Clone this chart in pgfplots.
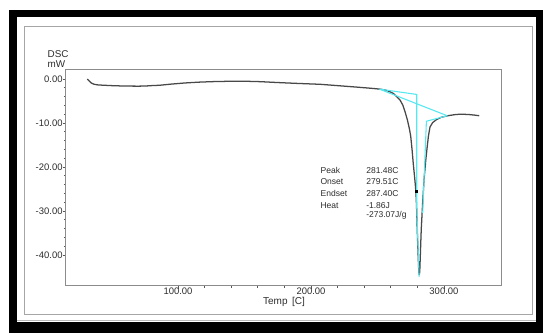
\documentclass[border=0pt]{standalone}
\usepackage{fontspec}
\setmainfont{Liberation Sans}
\usepackage{pgfplots}
\pgfplotsset{compat=1.18}
\definecolor{cyanline}{RGB}{85,232,240}
\definecolor{curve}{RGB}{72,72,72}
\definecolor{txt}{RGB}{45,45,45}
\definecolor{axgray}{RGB}{140,140,140}
\begin{document}
\begin{tikzpicture}[x=0.75pt,y=0.75pt]
\useasboundingbox (0,0) rectangle (543,333);
\fill[black] (8.7,322.6) rectangle (543,0);
\fill[white] (16.6,316.4) rectangle (535.5,11);
\draw[gray!55, line width=0.9pt] (16.6,12.2) -- (535.5,12.2);
\draw[gray!70, line width=0.8pt] (24.2,306.3) rectangle (532.5,18.7);
\begin{axis}[
  at={(49.35pt,35.475pt)}, anchor=south west,
  width=326.7pt, height=162.5pt, scale only axis,
  xmin=15.6, xmax=343.2, ymin=-46.98, ymax=2.27,
  axis line style={draw=axgray, line width=0.6pt},
  tick pos=left, tick align=outside,
  major tick length=2.25pt, minor tick length=1.5pt,
  tick style={draw=txt!80, line width=0.5pt},
  xtick={100,200,300}, xticklabels={100.00,200.00,300.00},
  ytick={-40,-30,-20,-10,0}, yticklabels={-40.00,-30.00,-20.00,-10.00,0.00},
  minor x tick num=4, minor y tick num=4,
  ticklabel style={font=\fontsize{7.1}{8}\selectfont, text=txt, inner sep=0pt},
  xticklabel style={yshift=0.8pt},
  clip=false
]
\addplot[curve, line width=0.95pt, line join=round] coordinates {
(31.8,0.0) (33,-0.4) (35,-0.95) (37,-1.2) (40,-1.35) (50,-1.5) (60,-1.6)
(70,-1.62) (75,-1.6) (80,-1.5) (86,-1.42) (95,-1.15) (105,-0.9) (115,-0.72)
(125,-0.6) (137,-0.52) (150,-0.5) (162,-0.6) (175,-0.8) (190,-1.0) (207,-1.2)
(220,-1.5) (235,-1.85) (245,-2.1) (252,-2.3) (256,-2.5) (259.4,-2.9) (262,-3.3)
(264.4,-4.0) (267,-4.8) (269,-5.9) (270.7,-7.4) (272.5,-9.3) (274,-11.3)
(275,-13) (276,-16) (276.9,-19.2) (278,-22.5) (278.9,-25.6) (279.4,-29)
(279.9,-34.3) (280.5,-39.5) (281.1,-44.0) (281.4,-44.5) (281.8,-43.8) (282.3,-39.5)
(282.9,-34.3) (284,-28) (285,-23) (286.3,-18.5) (287.4,-15.4) (288.3,-13)
(289.5,-10.9) (291.5,-9.9) (294.5,-9.2) (298,-8.7) (303,-8.34) (308,-8.1)
(312,-8.0) (318,-8.05) (323,-8.2) (326.5,-8.34)
};
\addplot[cyanline, line width=0.8pt] coordinates {(251.5,-2.3) (302.5,-8.35)};
\addplot[cyanline, line width=0.8pt] coordinates {(251.5,-2.3) (279.51,-3.5) (279.51,-29) (281.3,-45)};
\addplot[cyanline, line width=0.8pt] coordinates {(302.5,-8.35) (286.8,-9.6) (284.0,-30.5)};
\addplot[only marks, mark=square*, mark size=0.8pt, black] coordinates {(278.9,-25.6)};
\end{axis}
\begin{scope}[every node/.style={inner sep=0pt, text=txt}]
\node[anchor=west, font=\fontsize{7.4}{8}\selectfont] at (47.4,278.7) {DSC};
\node[anchor=west, font=\fontsize{7.4}{8}\selectfont] at (47.4,268.7) {mW};
\node[font=\fontsize{7.5}{8}\selectfont] at (284,31.5) {Temp\hspace{0.45em}[C]};
\node[anchor=west, font=\fontsize{6.4}{7}\selectfont] at (320.3,162.7) {Peak};
\node[anchor=west, font=\fontsize{6.4}{7}\selectfont] at (320.3,151) {Onset};
\node[anchor=west, font=\fontsize{6.4}{7}\selectfont] at (320.3,139.3) {Endset};
\node[anchor=west, font=\fontsize{6.4}{7}\selectfont] at (320.3,127.3) {Heat};
\node[anchor=west, font=\fontsize{6.4}{7}\selectfont] at (366,162.7) {281.48C};
\node[anchor=west, font=\fontsize{6.4}{7}\selectfont] at (366,151) {279.51C};
\node[anchor=west, font=\fontsize{6.4}{7}\selectfont] at (366,139.3) {287.40C};
\node[anchor=west, font=\fontsize{6.4}{7}\selectfont] at (366,127.3) {-1.86J};
\node[anchor=west, font=\fontsize{6.4}{7}\selectfont] at (366,117.7) {-273.07J/g};
\end{scope}
\end{tikzpicture}
\end{document}
